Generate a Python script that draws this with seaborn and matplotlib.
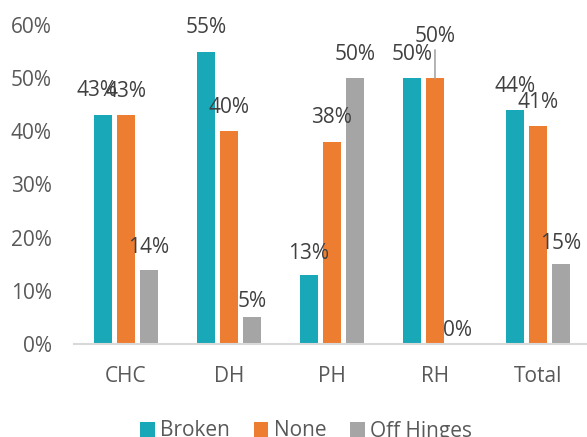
import pandas as pd
import matplotlib.pyplot as plt
import seaborn as sns
from matplotlib.ticker import PercentFormatter

# data
categories = ["CHC", "DH", "PH", "RH", "Total"]
series = ["Broken", "None", "Off Hinges"]
broken = [43, 55, 13, 50, 44]
none = [43, 40, 38, 50, 41]
off_hinges = [14, 5, 50, 0, 15]

colors = ["#18A8B8", "#ED7D31", "#A5A5A5"]

df = pd.DataFrame({
    "Category": categories * 3,
    "Type": [s for s in series for _ in categories],
    "Share": (broken + none + off_hinges),
})
df["Share"] = df["Share"] / 100

sns.set_theme(style="white")
plt.rcParams["font.family"] = ["Open Sans", "DejaVu Sans"]

fig = plt.figure(figsize=(5.87, 4.37), dpi=100)
ax = fig.add_axes([74 / 587, 1 - 344 / 437, 1 - 74 / 587, (344 - 25) / 437])

sns.barplot(data=df, x="Category", y="Share", hue="Type", order=categories,
            hue_order=series, palette=colors, width=0.67, gap=0.2,
            linewidth=0, saturation=1, ax=ax, legend=True)

ax.set_ylim(0, 0.6)
ax.set_xlim(-0.505, 4.476)
ax.yaxis.set_major_formatter(PercentFormatter(1.0, decimals=0))
ax.set_yticks([0, 0.1, 0.2, 0.3, 0.4, 0.5, 0.6])
ax.set_xlabel("")
ax.set_ylabel("")
ax.tick_params(axis="both", length=0, labelsize=15, labelcolor="#595959")
ax.tick_params(axis="y", pad=16)
ax.tick_params(axis="x", pad=16)
for side in ["top", "right", "left"]:
    ax.spines[side].set_visible(False)
ax.spines["bottom"].set_color("#D9D9D9")
ax.spines["bottom"].set_linewidth(1.5)
ax.grid(False)

# label nudges in pixels: (dx, height above bar top)
nudges = {
    ("CHC", "Broken"): (-6, 25), ("CHC", "Off Hinges"): (0, 22),
    ("DH", "Off Hinges"): (0, 16), ("PH", "Broken"): (0, 21),
    ("RH", "None"): (0, 42), ("RH", "Off Hinges"): (0, 13),
    ("Total", "Off Hinges"): (0, 21),
}
px = 72 / 100
for s, cont in zip(series, ax.containers):
    for cat, bar in zip(categories, cont):
        h = bar.get_height()
        xc = bar.get_x() + bar.get_width() / 2
        dx, dy = nudges.get((cat, s), (0, 24))
        arrow = None
        if (cat, s) == ("RH", "None"):
            arrow = dict(arrowstyle="-", color="#A6A6A6", lw=1.2,
                         shrinkA=0, shrinkB=0)
        ax.annotate(f"{h * 100:.0f}%", xy=(xc, h),
                    xytext=(dx * px, dy * px), textcoords="offset points",
                    ha="center", va="center", fontsize=15, color="#404040",
                    arrowprops=arrow, annotation_clip=False)

handles, labels = ax.get_legend_handles_labels()
ax.get_legend().remove()
fig.legend(handles, labels, loc="center", bbox_to_anchor=(306 / 587, 1 - 431 / 437),
           ncol=3, frameon=False, fontsize=15, handlelength=0.7,
           handleheight=0.7, handletextpad=0.25, columnspacing=1.15,
           labelcolor="#595959")

fig.savefig("out.png", dpi=100)
